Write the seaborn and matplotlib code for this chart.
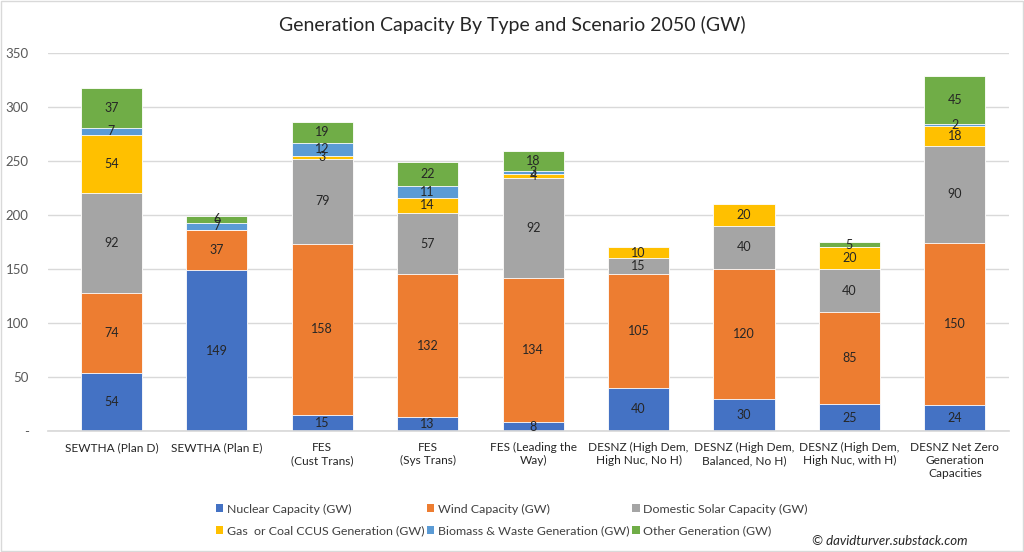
import matplotlib
matplotlib.use("Agg")
import matplotlib.pyplot as plt
import seaborn as sns
import numpy as np
from matplotlib.patches import Patch, Rectangle

sns.set_theme(style="white")
plt.rcParams['font.family'] = ['Lato', 'DejaVu Sans']

categories = ["SEWTHA (Plan D)", "SEWTHA (Plan E)", "FES\n(Cust Trans)", "FES\n(Sys Trans)",
              "FES (Leading the\nWay)", "DESNZ (High Dem,\nHigh Nuc, No H)",
              "DESNZ (High Dem,\nBalanced, No H)", "DESNZ (High Dem,\nHigh Nuc, with H)",
              "DESNZ Net Zero\nGeneration\nCapacities"]
series_names = ["Nuclear Capacity (GW)", "Wind Capacity (GW)", "Domestic Solar Capacity (GW)",
                "Gas  or Coal CCUS Generation (GW)", "Biomass & Waste Generation (GW)",
                "Other Generation (GW)"]
nuclear = [54, 149, 15, 13, 8, 40, 30, 25, 24]
wind = [74, 37, 158, 132, 134, 105, 120, 85, 150]
solar = [92, 0, 79, 57, 92, 15, 40, 40, 90]
gas = [54, 0, 3, 14, 4, 10, 20, 20, 18]
biomass = [7, 7, 12, 11, 3, 0, 0, 0, 2]
other = [37, 6, 19, 22, 18, 0, 0, 5, 45]
colors = ["#4472C4", "#ED7D31", "#A5A5A5", "#FFC000", "#5B9BD5", "#70AD47"]
yticks = [0, 50, 100, 150, 200, 250, 300, 350]
ytick_labels = ["-", "50", "100", "150", "200", "250", "300", "350"]

series = [nuclear, wind, solar, gas, biomass, other]
vals = np.array(series, dtype=float)
cum = np.cumsum(vals, axis=0)

fig = plt.figure(figsize=(10.24, 5.52), dpi=100)
ax = fig.add_axes([0.047, 0.2192, 0.938, 0.6848])

for k in range(len(series) - 1, -1, -1):
    sns.barplot(x=categories, y=cum[k], order=categories, color=colors[k], saturation=1,
                width=0.58, edgecolor="white", linewidth=0.6, ax=ax, zorder=2)

for k in range(len(series)):
    for i in range(len(categories)):
        v = vals[k, i]
        if v > 0:
            ax.text(i, cum[k, i] - v / 2, f"{int(v)}", ha="center", va="center",
                    fontsize=9, color="#262626", zorder=5)

ax.set_ylim(0, 350)
ax.set_xlim(-0.6, 8.51)
ax.set_yticks(yticks)
ax.set_yticklabels(ytick_labels, fontsize=9.5, color="#595959")
ax.tick_params(axis="x", labelsize=8.6, colors="#262626", length=0, pad=8)
ax.tick_params(axis="y", length=0, pad=14)
ax.yaxis.grid(True, color="#D9D9D9", linewidth=1, zorder=0)
ax.set_axisbelow(True)
for s in ["top", "right", "left"]:
    ax.spines[s].set_visible(False)
ax.spines["bottom"].set_color("#D9D9D9")
ax.set_xlabel("")
ax.set_ylabel("")

fig.text(0.5, 0.955, "Generation Capacity By Type and Scenario 2050 (GW)", ha="center",
         va="center", fontsize=14, color="#262626")

# legend filled row by row (matplotlib fills columns first)
order = [0, 3, 1, 4, 2, 5]
handles = [Patch(facecolor=colors[j], edgecolor="none") for j in order]
labels = [series_names[j] for j in order]
leg = fig.legend(handles, labels, ncol=3, loc="center left",
                 bbox_to_anchor=(0.2, 0.058), frameon=False, fontsize=8.9,
                 handlelength=0.6, handleheight=0.6, handletextpad=0.3,
                 columnspacing=0.2, labelspacing=0.85)
for t in leg.get_texts():
    t.set_color("#404040")

fig.text(0.945, 0.02, "© davidturver.substack.com", ha="right", va="center",
         fontsize=9.5, style="italic", color="#262626")

fig.patches.append(Rectangle((0.001, 0.001), 0.998, 0.997, transform=fig.transFigure,
                             fill=False, edgecolor="#D9D9D9", linewidth=1))

fig.savefig("out.png", dpi=100)
